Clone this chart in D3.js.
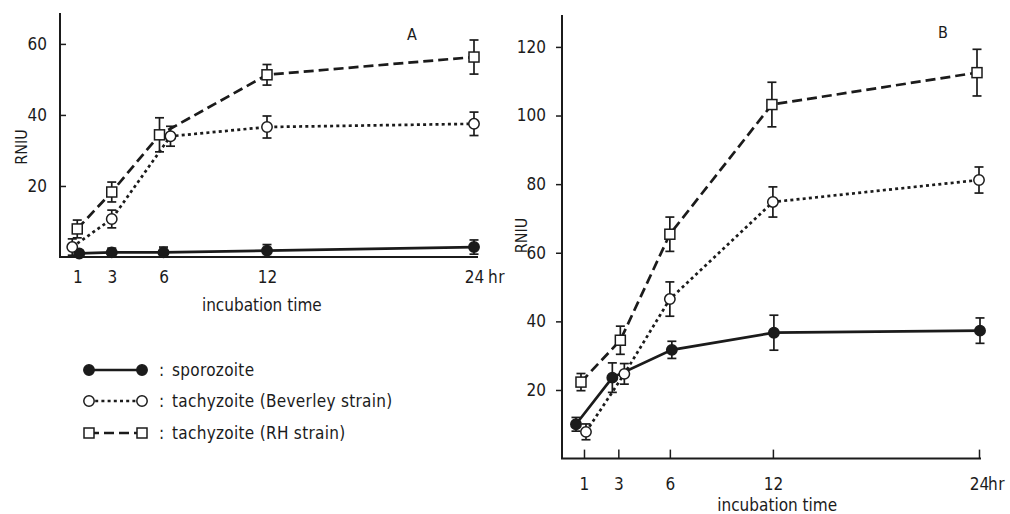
<!DOCTYPE html>
<html><head><meta charset="utf-8">
<script src="https://cdn.jsdelivr.net/npm/d3@7"></script>
<style>
html,body{margin:0;padding:0;background:#fff;}
svg{display:block;}
text{font-family:"DejaVu Sans Condensed","DejaVu Sans",sans-serif;font-stretch:condensed;fill:#1b1b1b;}
</style></head><body>
<svg id="chart" width="1010" height="514"></svg>
<script>
// ---- data ----
const times = [1, 3, 6, 12, 24];
const xTickLabels = ["1", "3", "6", "12", "24"];
const yTicksA = [20, 40, 60];
const yTicksB = [20, 40, 60, 80, 100, 120];
const seriesNames = ["sporozoite", "tachyzoite (Beverley strain)", "tachyzoite (RH strain)"];

const sporA = [1.0, 1.3, 1.3, 1.8, 2.8];
const sporAErr = [0.8, 1.2, 1.5, 1.7, 2.0];
const bevA = [2.8, 10.7, 34.0, 36.6, 37.5];
const bevAErr = [2.3, 2.5, 2.8, 3.1, 3.3];
const rhA = [7.9, 18.3, 34.4, 51.3, 56.3];
const rhAErr = [2.5, 2.8, 4.8, 2.9, 4.8];

const sporB = [10.0, 23.6, 31.7, 36.7, 37.3];
const sporBErr = [2.0, 4.3, 2.5, 5.1, 3.7];
const bevB = [7.8, 24.7, 46.5, 74.8, 81.2];
const bevBErr = [2.3, 3.0, 5.0, 4.4, 3.8];
const rhB = [22.3, 34.5, 65.4, 103.2, 112.5];
const rhBErr = [2.5, 4.1, 5.0, 6.5, 6.8];

// ---- layout / style ----
const ink = "#1b1b1b";
const FONT = '"DejaVu Sans Condensed","DejaVu Sans",sans-serif';
const FS = 17;
const svg = d3.select("#chart");

const styles = [
  {dash: null, marker: "filled"},
  {dash: "3,3.2", marker: "circle"},
  {dash: "10,5", marker: "square"}
];

// small horizontal dodges (px) so overlapping markers separate as in the figure
const dodgeA = [[2,0,0,0,0], [-5,0,7,0,0], [0,0,-4,0,0]];
const dodgeB = [[-8,-6,2,1,1], [2,6,0,0,0], [-3,2,0,-1,-2]];

function styleText(sel) {
  sel.attr("font-size", FS).attr("fill", ink)
    .style("font-family", FONT).style("font-stretch", "condensed");
}

function drawPanel(cfg) {
  const x = d3.scaleLinear().domain(cfg.xDomain).range(cfg.xRange);
  const y = d3.scaleLinear().domain(cfg.yDomain).range(cfg.yRange);
  const g = svg.append("g");

  // axes lines
  g.append("line").attr("x1", cfg.xRange[0]).attr("x2", cfg.xRange[0])
    .attr("y1", cfg.yRange[0]).attr("y2", cfg.yRange[1])
    .attr("stroke", ink).attr("stroke-width", 2);
  g.append("line").attr("x1", cfg.xRange[0] - 1).attr("x2", cfg.axisRight)
    .attr("y1", cfg.yRange[0]).attr("y2", cfg.yRange[0])
    .attr("stroke", ink).attr("stroke-width", 2);

  // y axis ticks & labels
  const yAxis = d3.axisLeft(y).tickValues(cfg.yTicks).tickSize(cfg.yTickSize).tickPadding(cfg.yTickPad);
  const ya = g.append("g").attr("transform", `translate(${cfg.xRange[0]},0)`).call(yAxis);
  ya.select(".domain").remove();
  ya.selectAll("line").attr("stroke", ink).attr("stroke-width", 1.5);
  styleText(ya.selectAll("text"));

  // x axis ticks & labels
  const xAxis = d3.axisBottom(x).tickValues(times).tickFormat((d, i) => xTickLabels[i])
    .tickSize(cfg.xTickSize).tickPadding(cfg.xTickPad);
  const xa = g.append("g").attr("transform", `translate(0,${cfg.yRange[0]})`).call(xAxis);
  xa.select(".domain").remove();
  xa.selectAll("line").attr("stroke", ink).attr("stroke-width", 1.5);
  styleText(xa.selectAll("text"));
  // "hr" unit after 24
  g.append("text").attr("x", x(24) + cfg.hrOffset)
    .attr("y", cfg.yRange[0] + cfg.xTickPad + Math.max(cfg.xTickSize, 0) + 0.71 * FS)
    .attr("font-size", FS).attr("letter-spacing", 0.5).text("hr");

  // axis titles
  g.append("text").attr("x", x(cfg.xTitleAt)).attr("y", cfg.xTitleY)
    .attr("text-anchor", "middle").attr("font-size", FS)
    .text("incubation time");
  g.append("text").attr("transform", `translate(${cfg.yTitleX},${y(cfg.yTitleAt)}) rotate(-90)`)
    .attr("text-anchor", "middle").attr("font-size", 16).text("RNIU");
  g.append("text").attr("x", x(cfg.letterAt)).attr("y", cfg.letterY)
    .attr("text-anchor", "middle").attr("font-size", 16).text(cfg.letter);

  // series
  cfg.series.forEach((s, si) => {
    const st = styles[si];
    const pts = times.map((t, i) => ({t, v: s.vals[i], e: s.errs[i], dx: cfg.dodge[si][i]}));
    const line = d3.line().x(d => x(d.t) + d.dx).y(d => y(d.v));
    g.append("path").datum(pts).attr("d", line).attr("fill", "none")
      .attr("stroke", ink).attr("stroke-width", 2.7)
      .attr("stroke-dasharray", st.dash);
    // error bars
    const eb = g.append("g").selectAll("g").data(pts).join("g");
    eb.append("line").attr("x1", d => x(d.t) + d.dx).attr("x2", d => x(d.t) + d.dx)
      .attr("y1", d => y(d.v + d.e)).attr("y2", d => y(Math.max(d.v - d.e, 0)))
      .attr("stroke", ink).attr("stroke-width", 1.7);
    [1, -1].forEach(sign => {
      eb.append("line").attr("x1", d => x(d.t) + d.dx - 4.5).attr("x2", d => x(d.t) + d.dx + 4.5)
        .attr("y1", d => y(Math.max(d.v + sign * d.e, 0))).attr("y2", d => y(Math.max(d.v + sign * d.e, 0)))
        .attr("stroke", ink).attr("stroke-width", 1.7);
    });
    drawMarkers(g, pts, st.marker, d => x(d.t) + d.dx, d => y(d.v));
  });
}

function drawMarkers(g, pts, type, fx, fy) {
  if (type === "square") {
    g.append("g").selectAll("rect").data(pts).join("rect")
      .attr("x", d => fx(d) - 5).attr("y", d => fy(d) - 5).attr("width", 10).attr("height", 10)
      .attr("fill", "#fff").attr("stroke", ink).attr("stroke-width", 1.5);
  } else {
    g.append("g").selectAll("circle").data(pts).join("circle")
      .attr("cx", fx).attr("cy", fy).attr("r", 5.2)
      .attr("fill", type === "filled" ? ink : "#fff").attr("stroke", ink).attr("stroke-width", 1.5);
  }
}

drawPanel({
  xDomain: [0, 24], xRange: [60, 474], axisRight: 478,
  yDomain: [0, 68.7], yRange: [257, 13],
  yTicks: yTicksA, yTickSize: -6, yTickPad: 13,
  xTickSize: 0, xTickPad: 14, hrOffset: 14,
  xTitleAt: 11.7, xTitleY: 311, yTitleX: 27, yTitleAt: 31,
  letter: "A", letterAt: 20.4, letterY: 40,
  dodge: dodgeA,
  series: [{vals: sporA, errs: sporAErr}, {vals: bevA, errs: bevAErr}, {vals: rhA, errs: rhAErr}]
});

drawPanel({
  xDomain: [-0.28, 24], xRange: [562, 979], axisRight: 981,
  yDomain: [0, 129.3], yRange: [458.6, 15],
  yTicks: yTicksB, yTickSize: 6, yTickPad: 10,
  xTickSize: -9, xTickPad: 19, hrOffset: 9,
  xTitleAt: 12.25, xTitleY: 511, yTitleX: 527, yTitleAt: 65,
  letter: "B", letterAt: 21.9, letterY: 38,
  dodge: dodgeB,
  series: [{vals: sporB, errs: sporBErr}, {vals: bevB, errs: bevBErr}, {vals: rhB, errs: rhBErr}]
});

// legend
const legendY = [370, 401, 433];
const lg = svg.append("g");
seriesNames.forEach((name, i) => {
  const st = styles[i];
  const yy = legendY[i];
  lg.append("line").attr("x1", 89).attr("x2", 142).attr("y1", yy).attr("y2", yy)
    .attr("stroke", ink).attr("stroke-width", 2.4).attr("stroke-dasharray", st.dash);
  drawMarkers(lg, [{a: 89}, {a: 142}], st.marker, d => d.a, () => yy);
  lg.append("text").attr("x", 159).attr("y", yy + 6).attr("font-size", FS).text(":");
  lg.append("text").attr("x", 172).attr("y", yy + 6).attr("font-size", FS)
    .attr("letter-spacing", 0.3).text(name);
});
</script>
</body></html>
